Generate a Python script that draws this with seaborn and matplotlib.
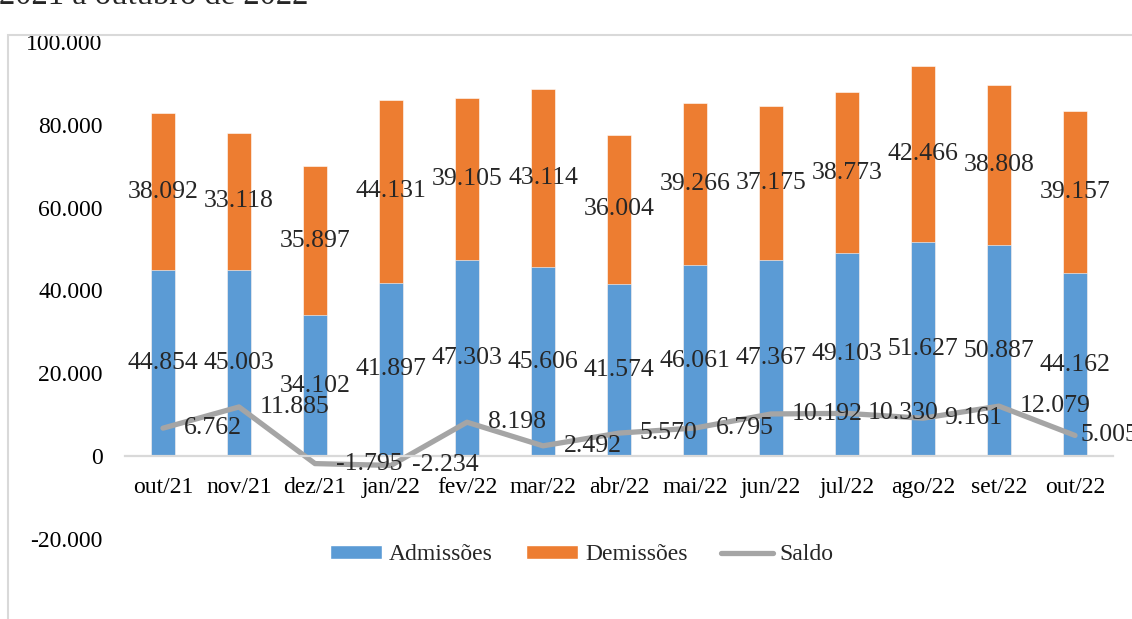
import numpy as np
import pandas as pd
import matplotlib
matplotlib.use("Agg")
import matplotlib.pyplot as plt
from matplotlib.patches import Patch, Rectangle
from matplotlib.lines import Line2D
import seaborn as sns

# Monthly formal-employment flows, Oct/2021 - Oct/2022
meses = ["out/21", "nov/21", "dez/21", "jan/22", "fev/22", "mar/22", "abr/22",
         "mai/22", "jun/22", "jul/22", "ago/22", "set/22", "out/22"]
admissoes = [44854, 45003, 34102, 41897, 47303, 45606, 41574,
             46061, 47367, 49103, 51627, 50887, 44162]
demissoes = [38092, 33118, 35897, 44131, 39105, 43114, 36004,
             39266, 37175, 38773, 42466, 38808, 39157]
saldo = [6762, 11885, -1795, -2234, 8198, 2492, 5570,
         6795, 10192, 10330, 9161, 12079, 5005]

y_ticks = [-20000, 0, 20000, 40000, 60000, 80000, 100000]
y_tick_labels = ["-20.000", "0", "20.000", "40.000", "60.000", "80.000", "100.000"]

AZUL = "#5B9BD5"
LARANJA = "#ED7D31"
CINZA = "#A5A5A5"


def fmt(v):
    return f"{v:,}".replace(",", ".")


df = pd.DataFrame({"mes": meses, "adm": admissoes, "dem": demissoes, "saldo": saldo})
df["total"] = df["adm"] + df["dem"]
df["pos"] = np.arange(len(df))

sns.set_style("white")
plt.rcParams["font.family"] = ["Liberation Serif", "DejaVu Serif"]

fig = plt.figure(figsize=(11.32, 6.19), dpi=100)
ax = fig.add_axes([125 / 1132, 1 - 539 / 619, 988 / 1132, (539 - 42) / 619])

# stacked bars: full height in orange, admissions drawn over it in blue
sns.barplot(data=df, x="mes", y="total", order=meses, color=LARANJA, width=0.31,
            saturation=1, edgecolor="white", linewidth=0.4, ax=ax)
sns.barplot(data=df, x="mes", y="adm", order=meses, color=AZUL, width=0.31,
            saturation=1, edgecolor="white", linewidth=0.4, ax=ax)
sns.lineplot(data=df, x="pos", y="saldo", color=CINZA, linewidth=3.8,
             solid_capstyle="round", solid_joinstyle="round", ax=ax, legend=False)

ax.set_xlim(-0.5, len(meses) - 0.5)
ax.set_ylim(-20000, 100000)
ax.set_yticks(y_ticks)
ax.set_yticklabels(y_tick_labels)
ax.set_xticks(range(len(meses)))
ax.set_xticklabels(meses)
ax.set_xticks(np.arange(-0.5, len(meses)), minor=True)
ax.set_xlabel("")
ax.set_ylabel("")

for s in ["top", "right", "left"]:
    ax.spines[s].set_visible(False)
ax.spines["bottom"].set_position(("data", 0))
ax.spines["bottom"].set_color("#D9D9D9")
ax.spines["bottom"].set_linewidth(1.6)
ax.tick_params(axis="x", which="major", length=0, pad=15, labelsize=17, colors="black")
ax.tick_params(axis="x", which="minor", length=5, width=1.4, color="#D9D9D9", direction="out")
ax.tick_params(axis="y", length=0, pad=16, labelsize=17, colors="black")
ax.grid(False)

# value labels
for i, r in df.iterrows():
    ax.text(i, r["adm"] / 2, fmt(r["adm"]), ha="center", va="center", fontsize=18.5)
    ax.text(i, r["adm"] + r["dem"] / 2, fmt(r["dem"]), ha="center", va="center", fontsize=18.5)
    off = 15 if i < len(df) - 1 else 4
    ax.annotate(fmt(r["saldo"]), (i, r["saldo"]), xytext=(off, 0),
                textcoords="offset points", ha="left", va="center",
                fontsize=18.5, annotation_clip=False)

handles = [Patch(facecolor=AZUL, label="Admissões"),
           Patch(facecolor=LARANJA, label="Demissões"),
           Line2D([], [], color=CINZA, lw=3.8, solid_capstyle="round", label="Saldo")]
fig.legend(handles=handles, loc="center", bbox_to_anchor=(582 / 1132, 1 - 555 / 619),
           ncol=3, frameon=False, fontsize=17, handlelength=2.2, handleheight=0.5,
           handletextpad=0.3, columnspacing=1.4)

# chart frame and heading
fig.patches.append(Rectangle((8 / 1132, -0.1), 1.2, 1 - 35 / 619 + 0.1,
                             transform=fig.transFigure, fill=False,
                             edgecolor="#D9D9D9", linewidth=1.5))
fig.text(-0.001, 1 - 4 / 619, "2021 a outubro de 2022", ha="left", va="baseline",
         fontsize=23.5)

fig.savefig("out.png", dpi=100)
